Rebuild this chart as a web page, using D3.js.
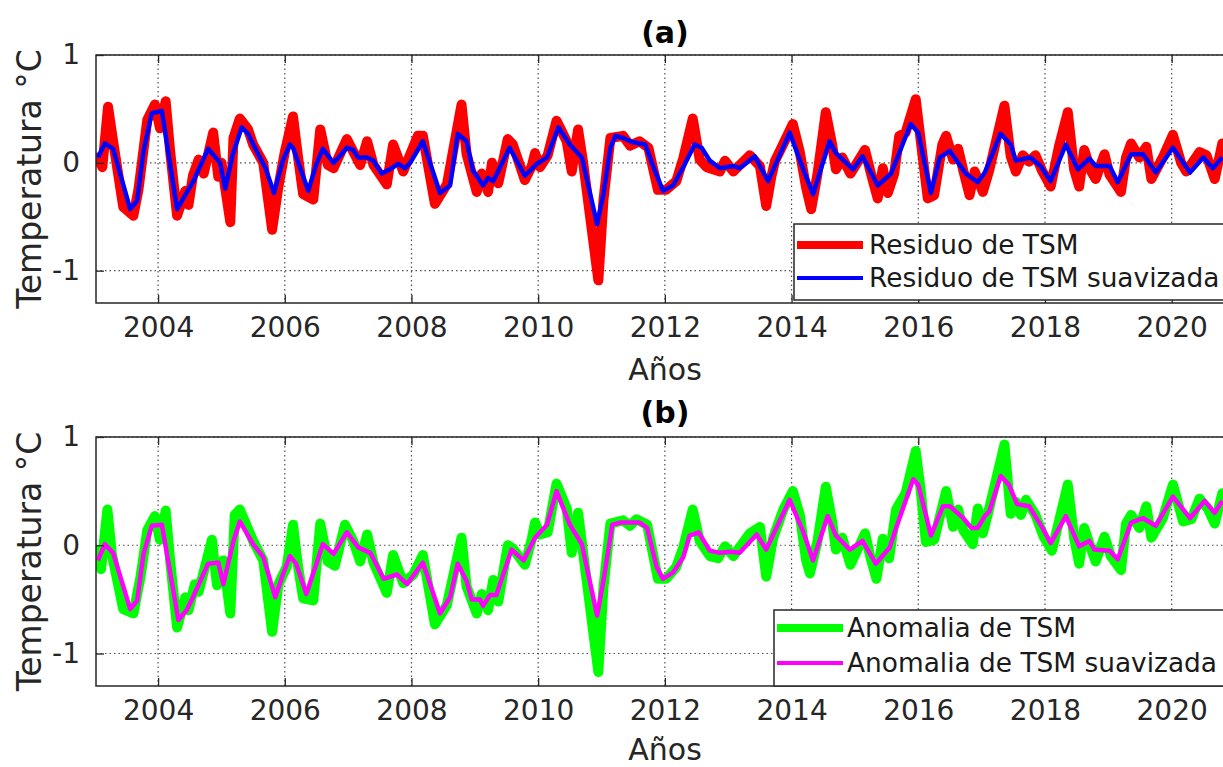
<!DOCTYPE html>
<html><head><meta charset="utf-8">
<script src="https://cdn.jsdelivr.net/npm/d3@7"></script>
<style>
html,body{margin:0;padding:0;background:#fff;}
svg text{font-family:"DejaVu Sans",sans-serif;fill:#262626;}
</style></head>
<body><svg id="c" width="1223" height="767"></svg>
<script>
// ---------- DATA (year, °C) ----------
const xTicks = [2004, 2006, 2008, 2010, 2012, 2014, 2016, 2018, 2020];
const yTicks = [-1, 0, 1];
const panelTitles = ["(a)", "(b)"];
const legendA = ["Residuo de TSM", "Residuo de TSM suavizada"];
const legendB = ["Anomalia de TSM", "Anomalia de TSM suavizada"];

const residuo = [
[2003.05,0.05],[2003.12,-0.04],[2003.21,0.52],[2003.29,0.2],[2003.45,-0.41],[2003.61,-0.49],[2003.69,-0.25],
[2003.83,0.4],[2003.95,0.54],[2004.03,0.32],[2004.12,0.57],[2004.19,0.11],[2004.3,-0.49],[2004.43,-0.26],
[2004.48,-0.39],[2004.55,-0.12],[2004.64,0.03],[2004.72,-0.1],[2004.87,0.28],[2004.95,-0.13],[2005.0,0.0],
[2005.14,-0.55],[2005.19,0.23],[2005.29,0.41],[2005.42,0.31],[2005.5,0.17],[2005.66,0.0],[2005.8,-0.62],
[2005.9,-0.22],[2006.0,0.1],[2006.13,0.43],[2006.21,0.05],[2006.29,-0.29],[2006.45,-0.34],[2006.56,0.31],
[2006.68,-0.02],[2006.77,-0.05],[2006.98,0.22],[2007.19,-0.02],[2007.3,0.2],[2007.4,-0.02],[2007.61,-0.2],
[2007.71,0.17],[2007.87,-0.08],[2008.1,0.25],[2008.18,0.25],[2008.37,-0.38],[2008.56,-0.2],[2008.79,0.54],
[2008.87,0.08],[2009.03,-0.27],[2009.11,-0.1],[2009.21,-0.27],[2009.27,0.0],[2009.37,-0.19],[2009.52,0.22],
[2009.6,0.17],[2009.79,-0.16],[2009.9,-0.03],[2009.95,0.09],[2010.03,-0.04],[2010.15,0.07],[2010.29,0.39],
[2010.45,0.2],[2010.53,-0.08],[2010.63,0.31],[2010.71,0.0],[2010.95,-1.09],[2011.03,-0.35],[2011.14,0.23],
[2011.34,0.25],[2011.45,0.16],[2011.6,0.2],[2011.74,0.14],[2011.89,-0.25],[2012.02,-0.25],[2012.18,-0.17],
[2012.29,0.04],[2012.44,0.41],[2012.55,0.03],[2012.66,-0.04],[2012.87,-0.08],[2012.95,0.02],[2013.08,-0.08],
[2013.34,0.07],[2013.5,-0.03],[2013.6,-0.4],[2013.68,-0.13],[2013.74,0.02],[2013.84,0.14],[2014.02,0.36],
[2014.13,0.1],[2014.23,-0.23],[2014.31,-0.43],[2014.41,-0.1],[2014.54,0.47],[2014.64,0.17],[2014.7,-0.06],
[2014.8,0.05],[2014.93,-0.1],[2015.16,0.12],[2015.24,-0.07],[2015.36,-0.33],[2015.44,-0.05],[2015.52,-0.28],
[2015.62,-0.1],[2015.7,0.25],[2015.8,0.28],[2015.96,0.59],[2016.04,0.2],[2016.15,-0.33],[2016.25,-0.3],
[2016.38,0.17],[2016.44,0.25],[2016.55,0.03],[2016.63,0.13],[2016.71,-0.07],[2016.81,-0.3],[2016.89,-0.08],
[2017.02,-0.27],[2017.12,-0.07],[2017.36,0.53],[2017.46,0.06],[2017.54,-0.08],[2017.65,0.07],[2017.75,0.01],
[2017.85,0.07],[2017.96,-0.08],[2018.09,-0.22],[2018.22,0.15],[2018.36,0.47],[2018.46,-0.06],[2018.54,-0.22],
[2018.62,0.12],[2018.73,-0.08],[2018.8,-0.15],[2018.94,0.08],[2019.02,-0.11],[2019.2,-0.27],[2019.28,0.05],
[2019.36,0.18],[2019.49,0.05],[2019.6,0.15],[2019.68,-0.15],[2019.86,0.05],[2020.02,0.26],[2020.15,0.0],
[2020.23,-0.08],[2020.44,0.1],[2020.55,0.07],[2020.68,-0.15],[2020.8,0.18]
];

const residuoSuav = [
[2003.05,0.05],[2003.16,0.18],[2003.29,0.13],[2003.56,-0.43],[2003.67,-0.35],[2003.77,0.11],[2003.9,0.46],
[2004.06,0.48],[2004.3,-0.43],[2004.55,-0.18],[2004.79,0.13],[2004.98,0.0],[2005.06,-0.24],[2005.18,0.08],
[2005.32,0.33],[2005.42,0.27],[2005.58,0.08],[2005.69,-0.04],[2005.83,-0.28],[2005.97,0.02],[2006.08,0.17],
[2006.13,0.14],[2006.37,-0.26],[2006.5,-0.01],[2006.6,0.13],[2006.77,0.0],[2006.85,0.05],[2006.98,0.14],
[2007.08,0.12],[2007.16,0.05],[2007.3,0.05],[2007.4,0.02],[2007.53,-0.1],[2007.66,-0.06],[2007.79,-0.01],
[2007.9,-0.05],[2007.98,0.0],[2008.18,0.2],[2008.45,-0.28],[2008.61,-0.21],[2008.73,0.27],[2008.87,0.2],
[2008.97,-0.07],[2009.13,-0.21],[2009.21,-0.14],[2009.29,-0.17],[2009.55,0.14],[2009.79,-0.12],[2009.98,-0.01],
[2010.14,0.05],[2010.32,0.33],[2010.5,0.17],[2010.69,0.05],[2010.93,-0.57],[2011.03,-0.29],[2011.14,0.14],
[2011.22,0.25],[2011.34,0.23],[2011.5,0.19],[2011.69,0.17],[2011.82,-0.04],[2011.97,-0.26],[2012.13,-0.21],
[2012.29,-0.04],[2012.47,0.17],[2012.58,0.14],[2012.71,0.02],[2012.87,-0.05],[2013.08,-0.03],[2013.18,-0.05],
[2013.42,0.06],[2013.63,-0.17],[2013.97,0.28],[2014.21,-0.1],[2014.34,-0.29],[2014.6,0.2],[2014.7,0.09],
[2014.97,-0.06],[2015.12,0.06],[2015.36,-0.21],[2015.57,-0.1],[2015.88,0.36],[2016.0,0.28],[2016.2,-0.28],
[2016.34,0.05],[2016.5,0.11],[2016.75,-0.1],[2016.94,-0.18],[2017.05,-0.09],[2017.3,0.27],[2017.46,0.17],
[2017.54,0.02],[2017.77,0.05],[2017.93,-0.03],[2018.09,-0.17],[2018.33,0.17],[2018.52,-0.06],[2018.7,0.04],
[2018.8,-0.03],[2019.02,-0.03],[2019.15,-0.18],[2019.36,0.08],[2019.55,0.08],[2019.75,-0.09],[2020.02,0.14],
[2020.29,-0.09],[2020.5,0.05],[2020.65,-0.05],[2020.8,0.05]
];

const anomalia = [
[2003.05,-0.05],[2003.1,-0.22],[2003.2,0.33],[2003.27,-0.08],[2003.45,-0.59],[2003.61,-0.63],[2003.72,-0.3],
[2003.83,0.14],[2003.95,0.27],[2004.03,0.05],[2004.12,0.32],[2004.19,-0.14],[2004.3,-0.76],[2004.43,-0.48],
[2004.48,-0.6],[2004.58,-0.36],[2004.64,-0.43],[2004.85,0.05],[2004.93,-0.37],[2005.03,-0.14],[2005.14,-0.63],
[2005.21,0.28],[2005.29,0.33],[2005.42,0.15],[2005.5,0.04],[2005.66,-0.14],[2005.8,-0.8],[2005.9,-0.36],
[2006.03,-0.2],[2006.13,0.19],[2006.21,-0.2],[2006.29,-0.49],[2006.45,-0.51],[2006.56,0.2],[2006.68,-0.15],
[2006.79,-0.19],[2006.95,0.19],[2007.08,0.04],[2007.19,-0.15],[2007.3,0.1],[2007.4,-0.16],[2007.61,-0.44],
[2007.71,-0.09],[2007.87,-0.35],[2008.03,-0.27],[2008.18,-0.09],[2008.37,-0.73],[2008.56,-0.55],[2008.79,0.07],
[2008.87,-0.38],[2009.03,-0.63],[2009.11,-0.45],[2009.21,-0.6],[2009.29,-0.32],[2009.37,-0.52],[2009.52,0.0],
[2009.6,-0.03],[2009.79,-0.18],[2009.9,0.06],[2009.95,0.21],[2010.03,0.1],[2010.15,0.12],[2010.29,0.57],
[2010.45,0.34],[2010.53,-0.07],[2010.63,0.3],[2010.71,-0.07],[2010.95,-1.17],[2011.03,-0.39],[2011.14,0.2],
[2011.34,0.23],[2011.45,0.18],[2011.55,0.24],[2011.72,0.19],[2011.89,-0.31],[2012.02,-0.31],[2012.18,-0.2],
[2012.29,-0.02],[2012.44,0.33],[2012.55,0.04],[2012.71,-0.1],[2012.84,-0.12],[2012.95,-0.01],[2013.08,-0.1],
[2013.34,0.11],[2013.5,0.17],[2013.6,-0.29],[2013.71,0.07],[2013.87,0.33],[2014.02,0.5],[2014.13,0.28],
[2014.23,-0.14],[2014.29,-0.26],[2014.41,0.04],[2014.54,0.54],[2014.64,0.22],[2014.7,-0.04],[2014.8,0.07],
[2014.93,-0.18],[2015.16,0.11],[2015.24,-0.1],[2015.34,-0.31],[2015.44,0.06],[2015.54,-0.12],[2015.65,0.33],
[2015.8,0.48],[2015.96,0.87],[2016.04,0.5],[2016.12,0.03],[2016.25,0.05],[2016.44,0.5],[2016.55,0.17],
[2016.63,0.33],[2016.71,0.14],[2016.86,0.01],[2016.94,0.34],[2017.02,0.11],[2017.12,0.34],[2017.36,0.93],
[2017.46,0.29],[2017.54,0.4],[2017.62,0.28],[2017.7,0.42],[2017.85,0.28],[2017.98,0.08],[2018.11,-0.05],
[2018.36,0.56],[2018.46,0.07],[2018.54,-0.17],[2018.62,0.16],[2018.75,-0.07],[2018.8,-0.15],[2018.94,0.08],
[2019.04,-0.1],[2019.2,-0.23],[2019.28,0.2],[2019.36,0.28],[2019.49,0.16],[2019.6,0.36],[2019.68,0.07],
[2019.86,0.25],[2020.02,0.56],[2020.18,0.22],[2020.31,0.24],[2020.44,0.43],[2020.57,0.34],[2020.68,0.2],
[2020.8,0.48]
];

const anomaliaSuav = [
[2003.05,-0.14],[2003.16,0.01],[2003.29,-0.07],[2003.56,-0.59],[2003.67,-0.51],[2003.77,-0.08],[2003.9,0.18],
[2004.06,0.19],[2004.32,-0.69],[2004.45,-0.6],[2004.55,-0.48],[2004.79,-0.17],[2004.95,-0.16],[2005.03,-0.36],
[2005.19,0.04],[2005.29,0.22],[2005.5,0.01],[2005.66,-0.11],[2005.85,-0.48],[2005.97,-0.27],[2006.08,-0.1],
[2006.18,-0.17],[2006.34,-0.45],[2006.5,-0.17],[2006.6,0.01],[2006.77,-0.08],[2006.98,0.12],[2007.16,-0.02],
[2007.35,-0.07],[2007.56,-0.31],[2007.77,-0.27],[2007.93,-0.36],[2008.18,-0.16],[2008.45,-0.63],[2008.61,-0.48],
[2008.73,-0.17],[2008.87,-0.33],[2008.95,-0.5],[2009.08,-0.5],[2009.13,-0.56],[2009.24,-0.46],[2009.34,-0.46],
[2009.58,-0.04],[2009.77,-0.14],[2009.95,0.07],[2010.14,0.19],[2010.29,0.5],[2010.5,0.19],[2010.69,0.01],
[2010.93,-0.65],[2011.03,-0.33],[2011.17,0.19],[2011.3,0.21],[2011.6,0.21],[2011.72,0.16],[2011.87,-0.2],
[2011.97,-0.31],[2012.13,-0.25],[2012.29,-0.11],[2012.39,0.09],[2012.53,0.12],[2012.71,-0.05],[2012.87,-0.07],
[2013.03,-0.06],[2013.18,-0.07],[2013.45,0.1],[2013.6,-0.04],[2013.97,0.42],[2014.18,0.13],[2014.34,-0.14],
[2014.57,0.27],[2014.7,0.09],[2014.92,-0.04],[2015.12,0.04],[2015.33,-0.17],[2015.55,-0.02],[2015.65,0.16],
[2015.92,0.61],[2016.0,0.56],[2016.2,0.09],[2016.39,0.36],[2016.5,0.36],[2016.71,0.25],[2016.84,0.16],
[2016.94,0.16],[2017.05,0.27],[2017.12,0.31],[2017.3,0.64],[2017.43,0.56],[2017.56,0.38],[2017.75,0.36],
[2017.96,0.16],[2018.09,0.02],[2018.33,0.27],[2018.54,-0.01],[2018.7,0.04],[2018.78,-0.04],[2019.02,-0.05],
[2019.15,-0.13],[2019.36,0.21],[2019.55,0.25],[2019.75,0.18],[2020.02,0.45],[2020.29,0.25],[2020.52,0.41],
[2020.68,0.3],[2020.8,0.41]
];

// ---------- LAYOUT ----------
const svg = d3.select("#c");
const TXT = "#262626";
const x = d3.scaleLinear().domain([2003.02, 2021.0]).range([96, 1235]);

const panels = [
  {top:55, bottom:303, title:panelTitles[0], titleY:43, xlabY:380, raw:residuo, smooth:residuoSuav,
   rawColor:"#ff0000", smoothColor:"#0000ff", legend:legendA,
   leg:{x:794, y:224, h:76, lx0:797, lx1:863, tx:869, y1:245, y2:278}},
  {top:437, bottom:686, title:panelTitles[1], titleY:423, xlabY:760, raw:anomalia, smooth:anomaliaSuav,
   rawColor:"#00ff00", smoothColor:"#ff00ff", legend:legendB,
   leg:{x:774, y:610, h:76, lx0:777, lx1:843, tx:847, y1:628, y2:663}}
];

panels.forEach((p, i) => {
  const y = d3.scaleLinear().domain([-1.3, 1]).range([p.bottom, p.top]);
  const g = svg.append("g");
  const L = 96, R = 1235;

  const cid = "clip" + i;
  svg.append("clipPath").attr("id", cid).append("rect")
    .attr("x", L).attr("y", p.top).attr("width", R - L).attr("height", p.bottom - p.top);

  // grid
  g.selectAll(".gx").data(xTicks).join("line")
    .attr("x1", d => x(d)).attr("x2", d => x(d)).attr("y1", p.top).attr("y2", p.bottom)
    .attr("stroke", "#262626").attr("stroke-width", 1.2).attr("stroke-dasharray", "1.5,3").attr("opacity", 0.8);
  g.selectAll(".gy").data(yTicks).join("line")
    .attr("x1", L).attr("x2", R).attr("y1", d => y(d)).attr("y2", d => y(d))
    .attr("stroke", "#262626").attr("stroke-width", 1.2).attr("stroke-dasharray", "1.5,3").attr("opacity", 0.8);

  // lines
  const line = d3.line().x(d => x(d[0])).y(d => y(d[1]));
  g.append("path").datum(p.raw).attr("d", line).attr("clip-path", `url(#${cid})`)
    .attr("fill", "none").attr("stroke", p.rawColor).attr("stroke-width", 10)
    .attr("stroke-linejoin", "round").attr("stroke-linecap", "round");
  g.append("path").datum(p.smooth).attr("d", line).attr("clip-path", `url(#${cid})`)
    .attr("fill", "none").attr("stroke", p.smoothColor).attr("stroke-width", 4.5)
    .attr("stroke-linejoin", "round");

  // axes (ticks inside)
  const xb = g.append("g").attr("transform", `translate(0,${p.bottom})`)
    .call(d3.axisBottom(x).tickValues(xTicks).tickFormat(d3.format("d")).tickSizeInner(-8).tickSizeOuter(0).tickPadding(14));
  const xt = g.append("g").attr("transform", `translate(0,${p.top})`)
    .call(d3.axisTop(x).tickValues(xTicks).tickFormat("").tickSizeInner(-8).tickSizeOuter(0));
  const yl = g.append("g").attr("transform", `translate(${L},0)`)
    .call(d3.axisLeft(y).tickValues(yTicks).tickFormat(d3.format("d")).tickSizeInner(-8).tickSizeOuter(0).tickPadding(16));
  [xb, xt, yl].forEach(a => {
    a.select(".domain").remove();
    a.selectAll(".tick line").attr("stroke", TXT).attr("stroke-width", 1.3);
    a.selectAll(".tick text").attr("fill", TXT).style("font-size", "28px").style("font-family", "DejaVu Sans");
  });
  xb.selectAll(".tick text").attr("dy", "0.71em");
  yl.selectAll(".tick text").text(d => d < 0 ? "-" + Math.abs(d) : d);

  // box
  g.append("rect").attr("x", L).attr("y", p.top).attr("width", R - L).attr("height", p.bottom - p.top)
    .attr("fill", "none").attr("stroke", TXT).attr("stroke-width", 1.5);

  // labels
  svg.append("text").attr("x", 665).attr("y", p.titleY).attr("text-anchor", "middle")
    .style("font-size", "30px").style("font-weight", "bold").style("fill", "#000").text(p.title);
  svg.append("text").attr("x", 665).attr("y", p.xlabY).attr("text-anchor", "middle")
    .style("font-size", "30px").text("Años");
  svg.append("text").attr("transform", `translate(41,${(p.top + p.bottom) / 2}) rotate(-90)`)
    .attr("text-anchor", "middle").style("font-size", "33px").text("Temperatura °C");

  // legend
  const lg = p.leg;
  svg.append("rect").attr("x", lg.x).attr("y", lg.y).attr("width", 500).attr("height", lg.h)
    .attr("fill", "#fff").attr("stroke", TXT).attr("stroke-width", 1.5);
  svg.append("line").attr("x1", lg.lx0).attr("x2", lg.lx1).attr("y1", lg.y1).attr("y2", lg.y1)
    .attr("stroke", p.rawColor).attr("stroke-width", 8);
  svg.append("line").attr("x1", lg.lx0).attr("x2", lg.lx1).attr("y1", lg.y2).attr("y2", lg.y2)
    .attr("stroke", p.smoothColor).attr("stroke-width", 4);
  svg.append("text").attr("x", lg.tx).attr("y", lg.y1 + 9).style("font-size", "26.4px").style("fill", "#1a1a1a").text(p.legend[0]);
  svg.append("text").attr("x", lg.tx).attr("y", lg.y2 + 9).style("font-size", "26.4px").style("fill", "#1a1a1a").text(p.legend[1]);
});
</script></body></html>
